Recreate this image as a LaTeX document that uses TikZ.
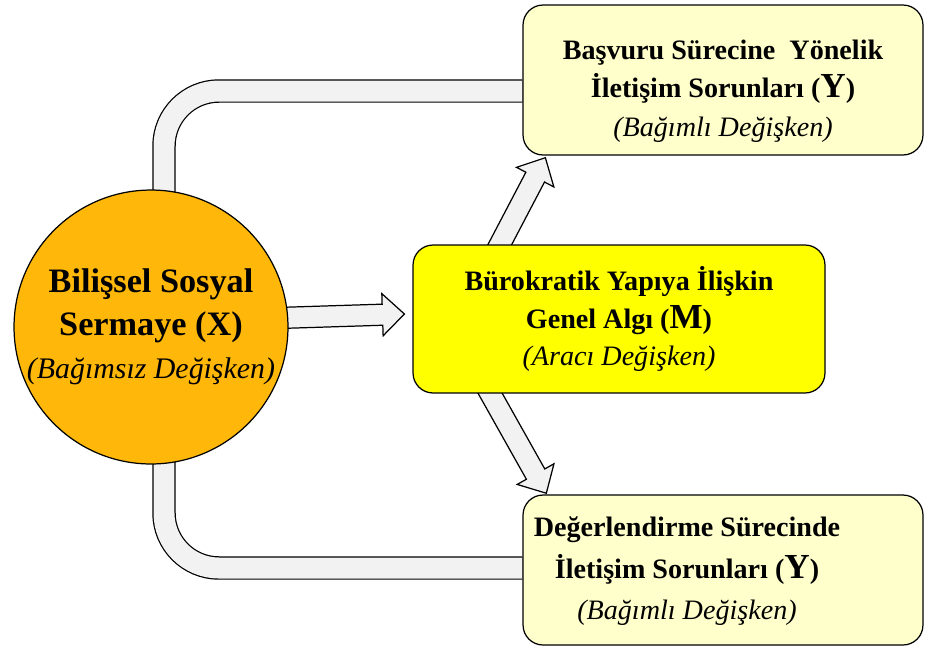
\documentclass[tikz,border=0pt]{standalone}
\usepackage{fontspec}
\setmainfont{Liberation Serif}
\usetikzlibrary{calc,backgrounds}
\definecolor{sermaye}{RGB}{255,184,10}
\definecolor{araci}{RGB}{255,255,0}
\definecolor{bagimli}{RGB}{255,255,204}
\definecolor{boru}{RGB}{242,242,242}
\newcommand{\iri}[1]{{\fontsize{20}{22}\selectfont #1}}
% block arrow from #1 to #2
\newcommand{\blokok}[2]{%
	\draw[okgovde] let \p1=(#1), \p2=(#2),
		\n1={atan2(\y2-\y1,\x2-\x1)}, \n2={veclen(\x2-\x1,\y2-\y1)} in
		{[shift={(\p1)}, rotate=\n1]
		(0pt,-6pt) -- (\n2-12.5pt,-6pt) -- (\n2-12.5pt,-12pt) -- (\n2,0pt)
		-- (\n2-12.5pt,12pt) -- (\n2-12.5pt,6pt) -- (0pt,6pt) -- cycle};
}

\begin{document}
\begin{tikzpicture}[x=0.02cm,y=-0.02cm,
		degisken/.style={draw, line width=0.7pt, rounded corners=0.4cm, minimum width=8cm,
			minimum height=3cm, align=center, font=\fontsize{16}{21.5}\selectfont\bfseries},
		okgovde/.style={draw, line width=0.7pt, fill=boru, line join=miter},
		boruyol/.style={line width=0.7pt, double=boru, double distance=0.42cm, rounded corners=1.1cm}]
	\useasboundingbox (0,0) rectangle (925,650);
	\node[draw, circle, line width=0.7pt, fill=sermaye, minimum size=5.48cm, inner sep=0pt, align=center,
		font=\fontsize{19.5}{24.5}\selectfont\bfseries] (X) at (151,327)
		{Bilişsel Sosyal\\ Sermaye (X)\\ {\fontsize{17}{24.5}\selectfont\mdseries\itshape (Bağımsız Değişken)}};
	\node[degisken, fill=bagimli, font=\fontsize{16}{22}\selectfont\bfseries] (Y1) at (723,80)
		{\raisebox{0pt}[\dimexpr\height+0.4cm\relax][\depth]{\begin{tabular}{@{}c@{}}
			Başvuru Sürecine\ \ Yönelik\\ İletişim Sorunları (\iri{Y})\\ {\mdseries\itshape (Bağımlı Değişken)}
		\end{tabular}}};
	\node[degisken, fill=araci, minimum width=8.24cm, minimum height=2.96cm] (M) at (619,319)
		{Bürokratik Yapıya İlişkin\\ Genel Algı (\iri{M})\\ {\mdseries\itshape (Aracı Değişken)}};
	\node[degisken, fill=bagimli, font=\fontsize{16}{23.5}\selectfont\bfseries] (Y2) at (723,570)
		{\begin{tabular}{@{}c@{}}
			Değerlendirme Sürecinde\\ İletişim Sorunları (\iri{Y})\\ {\mdseries\itshape (Bağımlı Değişken)}
		\end{tabular}\hspace*{1.44cm}};
	\begin{scope}[on background layer]
		\draw[boruyol] ([xshift=0.26cm]X.center) |- ([yshift=-0.22cm]Y1.west);
		\draw[boruyol] ([xshift=0.26cm]X.center) |- ([yshift=0.04cm]Y2.west);
		\blokok{[yshift=0.1cm]X.center}{[xshift=-0.16cm,yshift=0.1cm]M.west}
		\blokok{[xshift=-2.54cm,yshift=-0.3cm]M.north}{[xshift=0.46cm,yshift=-0.04cm]Y1.south west}
		\blokok{[xshift=-2.72cm,yshift=0.26cm]M.south}{[xshift=0.48cm,yshift=0.02cm]Y2.north west}
	\end{scope}
\end{tikzpicture}
\end{document}
